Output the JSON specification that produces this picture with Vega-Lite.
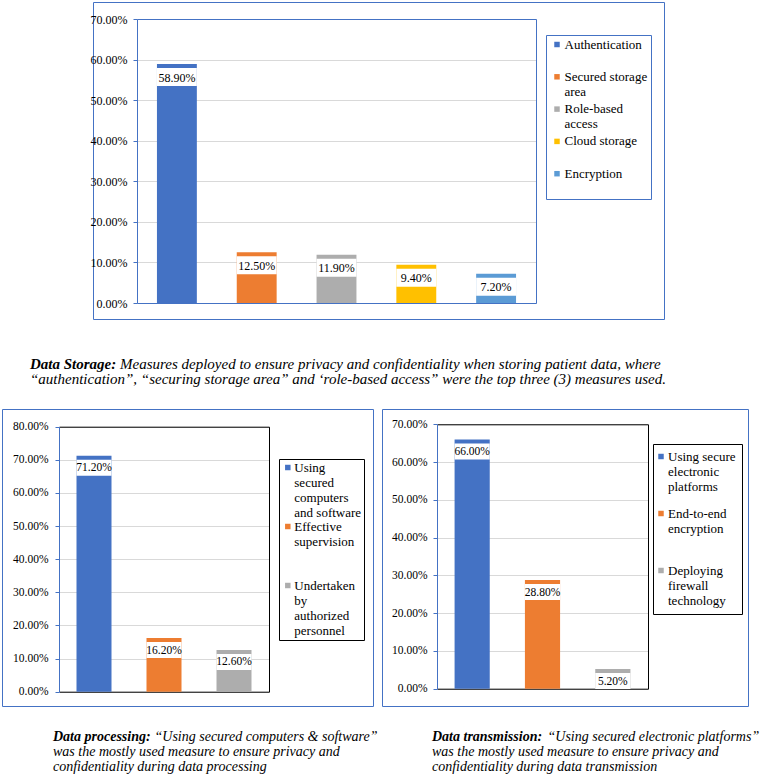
{
  "$schema": "https://vega.github.io/schema/vega-lite/v6.json",
  "padding": {"left": 1, "top": 1, "right": 0, "bottom": 0},
  "background": "white",
  "spacing": 20,
  "resolve": {"scale": {"x": "independent", "y": "independent", "color": "independent"}, "legend": {"color": "independent"}},
  "vconcat": [
    {
      "spacing": 0,
      "bounds": "flush",
      "resolve": {"scale": {"x": "independent", "y": "independent", "color": "independent"}, "legend": {"color": "independent"}},
      "hconcat": [
        {
          "width": 91,
          "height": 317,
          "view": {"stroke": null},
          "data": {"values": []},
          "mark": {"type": "point", "opacity": 0},
          "encoding": {}
        },
        {
          "width": 571,
          "height": 317,
          "view": {"stroke": "#4472C4", "strokeWidth": 1},
          "title": {
            "text": "Data Storage:",
            "subtitle": [
              "\u200b\u00a0\u00a0\u00a0\u00a0\u00a0\u00a0\u00a0\u00a0\u00a0\u00a0\u00a0\u00a0\u00a0\u00a0\u00a0\u00a0\u00a0\u00a0\u00a0\u00a0\u00a0\u00a0\u00a0\u00a0Measures deployed to ensure privacy and confidentiality when storing patient data, where",
              "“authentication”, “securing storage area” and ‘role-based access” were the top three (3) measures used."
            ],
            "orient": "bottom",
            "anchor": "start",
            "frame": "group",
            "dx": -63,
            "offset": 38,
            "fontSize": 15,
            "subtitleFontSize": 15,
            "subtitlePadding": -15,
            "subtitleLineHeight": 15
          },
          "data": {
            "values": [
              {"measure": "Authentication", "share": 0.589},
              {"measure": "Secured storage area", "share": 0.125},
              {"measure": "Role-based access", "share": 0.119},
              {"measure": "Cloud storage", "share": 0.094},
              {"measure": "Encryption", "share": 0.072}
            ]
          },
          "layer": [
            {
              "mark": {"type": "bar"},
              "encoding": {
                "x": {
                  "field": "measure", "type": "nominal", "sort": null,
                  "scale": {"range": [44, 443], "paddingInner": 0.5, "paddingOuter": 0.25},
                  "axis": {"orient": "bottom", "offset": -16, "labels": false, "ticks": false, "title": null, "grid": false, "domainColor": "#4472C4"}
                },
                "y": {
                  "field": "share", "type": "quantitative",
                  "scale": {"domain": [0, 0.7], "range": [301, 17], "nice": false},
                  "axis": {"orient": "left", "offset": -44, "values": [0, 0.1, 0.2, 0.3, 0.4, 0.5, 0.6, 0.7], "format": ".2%", "title": null, "grid": true, "gridColor": "#D9D9D9", "domainColor": "#4472C4", "tickColor": "#4472C4", "tickSize": 4, "labelPadding": 6, "labelFontSize": 12}
                },
                "color": {
                  "field": "measure", "type": "nominal", "sort": null,
                  "scale": {
                    "domain": ["Authentication", "Secured storage area", "Role-based access", "Cloud storage", "Encryption"],
                    "range": ["#4472C4", "#ED7D31", "#ADADAD", "#FFC000", "#5B9BD5"]
                  },
                  "legend": {
                    "orient": "none", "legendX": 453, "legendY": 33, "title": null,
                    "strokeColor": "#4472C4", "padding": 3, "symbolOffset": 1.5,
                    "symbolType": "square", "symbolSize": 30, "symbolStrokeWidth": 0,
                    "labelFontSize": 13, "labelOffset": 1, "rowPadding": 3.3, "labelBaseline": "middle",
                    "labelExpr": "datum.label == 'Secured storage area' ? ['Secured storage', 'area'] : datum.label == 'Role-based access' ? ['Role-based', 'access'] : [datum.label, '']"
                  }
                }
              }
            },
            {
              "mark": {"type": "bar", "color": "white", "yOffset": 4, "y2Offset": 22},
              "encoding": {
                "x": {"field": "measure", "type": "nominal", "sort": null,
                      "axis": {"orient": "top", "offset": -17, "labels": false, "ticks": false, "title": null, "grid": false, "domainColor": "#4472C4"}},
                "y": {"field": "share", "type": "quantitative",
                      "axis": {"orient": "right", "offset": -128, "labels": false, "ticks": false, "title": null, "grid": false, "domainColor": "#4472C4"}},
                "y2": {"field": "share"}
              }
            },
            {
              "mark": {"type": "text", "dy": 13.5, "baseline": "middle", "fontSize": 12},
              "encoding": {
                "x": {"field": "measure", "type": "nominal", "sort": null, "axis": null},
                "y": {"field": "share", "type": "quantitative", "axis": null},
                "text": {"field": "share", "type": "quantitative", "format": ".2%"}
              }
            }
          ],
          "resolve": {"axis": {"x": "independent", "y": "independent"}}
        }
      ]
    },
    {
      "spacing": 9,
      "bounds": "flush",
      "resolve": {"scale": {"x": "independent", "y": "independent", "color": "independent"}, "legend": {"color": "independent"}},
      "hconcat": [
        {
          "width": 371,
          "height": 297,
          "view": {"stroke": "#4472C4", "strokeWidth": 1},
          "title": {
            "text": "Data processing:",
            "subtitle": [
              "\u200b\u00a0\u00a0\u00a0\u00a0\u00a0\u00a0\u00a0\u00a0\u00a0\u00a0\u00a0\u00a0\u00a0\u00a0\u00a0\u00a0\u00a0\u00a0\u00a0\u00a0\u00a0\u00a0\u00a0\u00a0\u00a0\u00a0\u00a0\u00a0\u00a0“Using secured computers & software”",
              "was the mostly used measure to ensure privacy and",
              "confidentiality during data processing"
            ],
            "orient": "bottom",
            "anchor": "start",
            "frame": "group",
            "dx": 51,
            "offset": 24,
            "fontSize": 14,
            "subtitleFontSize": 14,
            "subtitlePadding": -14,
            "subtitleLineHeight": 15
          },
          "data": {
            "values": [
              {"measure": "Using secured computers and software", "share": 0.712},
              {"measure": "Effective supervision", "share": 0.162},
              {"measure": "Undertaken by authorized personnel", "share": 0.126}
            ]
          },
          "layer": [
            {
              "mark": {"type": "bar"},
              "encoding": {
                "x": {
                  "field": "measure", "type": "nominal", "sort": null,
                  "scale": {"range": [57, 267], "paddingInner": 0.5, "paddingOuter": 0.25},
                  "axis": {"orient": "bottom", "offset": -14.3, "labels": false, "ticks": false, "title": null, "grid": false, "domainColor": "#000000"}
                },
                "y": {
                  "field": "share", "type": "quantitative",
                  "scale": {"domain": [0, 0.8], "range": [282.7, 17.7], "nice": false},
                  "axis": {"orient": "left", "offset": -57, "values": [0, 0.1, 0.2, 0.3, 0.4, 0.5, 0.6, 0.7, 0.8], "format": ".2%", "title": null, "grid": true, "gridColor": "#D9D9D9", "domainColor": "#4472C4", "tickColor": "#4472C4", "tickSize": 4, "labelPadding": 7, "labelFontSize": 11.5}
                },
                "color": {
                  "field": "measure", "type": "nominal", "sort": null,
                  "scale": {
                    "domain": ["Using secured computers and software", "Effective supervision", "Undertaken by authorized personnel"],
                    "range": ["#4472C4", "#ED7D31", "#ADADAD"]
                  },
                  "legend": {
                    "orient": "none", "legendX": 277, "legendY": 50, "title": null,
                    "strokeColor": "#000000", "padding": 2, "symbolOffset": 0.3,
                    "symbolType": "square", "symbolSize": 30, "symbolStrokeWidth": 0,
                    "labelFontSize": 13, "labelOffset": 0, "rowPadding": 0, "labelBaseline": "middle",
                    "labelExpr": "datum.label == 'Using secured computers and software' ? ['Using', 'secured', 'computers', 'and software'] : datum.label == 'Effective supervision' ? ['Effective', 'supervision', '', ''] : ['Undertaken', 'by', 'authorized', 'personnel']"
                  }
                }
              }
            },
            {
              "mark": {"type": "bar", "color": "white", "yOffset": 4, "y2Offset": 20},
              "encoding": {
                "x": {"field": "measure", "type": "nominal", "sort": null,
                      "axis": {"orient": "top", "offset": -17.7, "labels": false, "ticks": false, "title": null, "grid": false, "domainColor": "#000000"}},
                "y": {"field": "share", "type": "quantitative",
                      "axis": {"orient": "right", "offset": -104, "labels": false, "ticks": false, "title": null, "grid": false, "domainColor": "#000000"}},
                "y2": {"field": "share"}
              }
            },
            {
              "mark": {"type": "text", "dy": 12.5, "baseline": "middle", "fontSize": 11.5},
              "encoding": {
                "x": {"field": "measure", "type": "nominal", "sort": null, "axis": null},
                "y": {"field": "share", "type": "quantitative", "axis": null},
                "text": {"field": "share", "type": "quantitative", "format": ".2%"}
              }
            }
          ],
          "resolve": {"axis": {"x": "independent", "y": "independent"}}
        },
        {
          "width": 366,
          "height": 297,
          "view": {"stroke": "#4472C4", "strokeWidth": 1},
          "title": {
            "text": "Data transmission:",
            "subtitle": [
              "\u200b\u00a0\u00a0\u00a0\u00a0\u00a0\u00a0\u00a0\u00a0\u00a0\u00a0\u00a0\u00a0\u00a0\u00a0\u00a0\u00a0\u00a0\u00a0\u00a0\u00a0\u00a0\u00a0\u00a0\u00a0\u00a0\u00a0\u00a0\u00a0\u00a0\u00a0\u00a0\u00a0\u00a0“Using secured electronic platforms”",
              "was the mostly used measure to ensure privacy and",
              "confidentiality during data transmission"
            ],
            "orient": "bottom",
            "anchor": "start",
            "frame": "group",
            "dx": 50,
            "offset": 24,
            "fontSize": 14,
            "subtitleFontSize": 14,
            "subtitlePadding": -14,
            "subtitleLineHeight": 15
          },
          "data": {
            "values": [
              {"measure": "Using secure electronic platforms", "share": 0.66},
              {"measure": "End-to-end encryption", "share": 0.288},
              {"measure": "Deploying firewall technology", "share": 0.052}
            ]
          },
          "layer": [
            {
              "mark": {"type": "bar"},
              "encoding": {
                "x": {
                  "field": "measure", "type": "nominal", "sort": null,
                  "scale": {"range": [55, 266], "paddingInner": 0.5, "paddingOuter": 0.25},
                  "axis": {"orient": "bottom", "offset": -17.3, "labels": false, "ticks": false, "title": null, "grid": false, "domainColor": "#000000"}
                },
                "y": {
                  "field": "share", "type": "quantitative",
                  "scale": {"domain": [0, 0.7], "range": [279.7, 15.3], "nice": false},
                  "axis": {"orient": "left", "offset": -55, "values": [0, 0.1, 0.2, 0.3, 0.4, 0.5, 0.6, 0.7], "format": ".2%", "title": null, "grid": true, "gridColor": "#D9D9D9", "domainColor": "#4472C4", "tickColor": "#4472C4", "tickSize": 4, "labelPadding": 6, "labelFontSize": 11.5}
                },
                "color": {
                  "field": "measure", "type": "nominal", "sort": null,
                  "scale": {
                    "domain": ["Using secure electronic platforms", "End-to-end encryption", "Deploying firewall technology"],
                    "range": ["#4472C4", "#ED7D31", "#ADADAD"]
                  },
                  "legend": {
                    "orient": "none", "legendX": 271, "legendY": 35, "title": null,
                    "strokeColor": "#000000", "padding": 6, "symbolOffset": -4.5,
                    "symbolType": "square", "symbolSize": 30, "symbolStrokeWidth": 0,
                    "labelFontSize": 13, "labelOffset": 0.5, "rowPadding": 13, "labelBaseline": "middle",
                    "labelExpr": "datum.label == 'Using secure electronic platforms' ? ['Using secure', 'electronic', 'platforms'] : datum.label == 'End-to-end encryption' ? ['End-to-end', 'encryption', ''] : ['Deploying', 'firewall', 'technology']"
                  }
                }
              }
            },
            {
              "mark": {"type": "bar", "color": "white", "yOffset": 4, "y2Offset": 20},
              "encoding": {
                "x": {"field": "measure", "type": "nominal", "sort": null,
                      "axis": {"orient": "top", "offset": -15.3, "labels": false, "ticks": false, "title": null, "grid": false, "domainColor": "#000000"}},
                "y": {"field": "share", "type": "quantitative",
                      "axis": {"orient": "right", "offset": -100, "labels": false, "ticks": false, "title": null, "grid": false, "domainColor": "#000000"}},
                "y2": {"field": "share"}
              }
            },
            {
              "mark": {"type": "text", "dy": 13, "baseline": "middle", "fontSize": 11.5},
              "encoding": {
                "x": {"field": "measure", "type": "nominal", "sort": null, "axis": null},
                "y": {"field": "share", "type": "quantitative", "axis": null},
                "text": {"field": "share", "type": "quantitative", "format": ".2%"}
              }
            }
          ],
          "resolve": {"axis": {"x": "independent", "y": "independent"}}
        }
      ]
    }
  ],
  "config": {
    "font": "Liberation Serif",
    "view": {"stroke": null},
    "axis": {"labelFont": "Liberation Serif", "labelColor": "#000000", "domainWidth": 1, "gridWidth": 1},
    "legend": {"labelFont": "Liberation Serif", "labelColor": "#000000", "labelLimit": 200},
    "text": {"font": "Liberation Serif", "color": "#000000"},
    "title": {
      "font": "Liberation Serif", "fontStyle": "italic", "fontWeight": "bold", "color": "#000000",
      "subtitleFont": "Liberation Serif", "subtitleFontStyle": "italic", "subtitleFontWeight": "normal", "subtitleColor": "#000000"
    }
  }
}
